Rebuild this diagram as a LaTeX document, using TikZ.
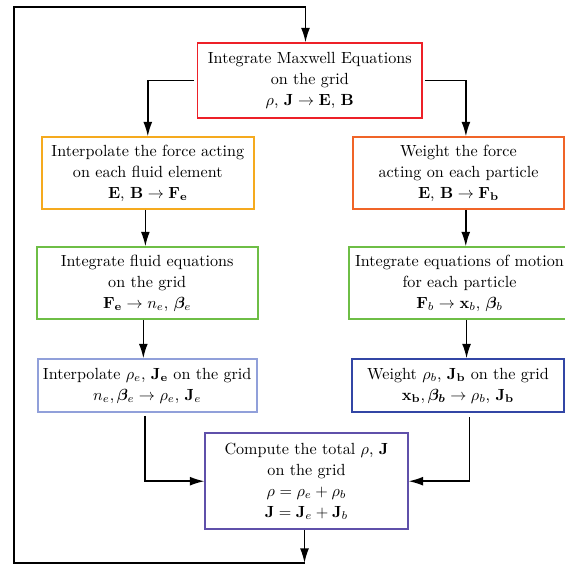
\documentclass[tikz,border=0pt]{standalone}
\usepackage{amsmath,bm}
\usetikzlibrary{arrows.meta,calc}
\definecolor{cred}{RGB}{237,32,40}
\definecolor{corange}{RGB}{245,170,30}
\definecolor{cored}{RGB}{240,100,40}
\definecolor{cgreen}{RGB}{110,190,70}
\definecolor{clblue}{RGB}{145,160,218}
\definecolor{cdblue}{RGB}{50,70,165}
\definecolor{cpurple}{RGB}{95,80,170}
\tikzset{
  box/.style={draw, line width=1.1pt, align=center, inner sep=0pt,
    font=\fontsize{10}{13}\selectfont},
  arr/.style={line width=1pt, -{Latex[length=9pt,width=5.5pt]}},
  ln/.style={line width=1pt}
}
\begin{document}
\begin{tikzpicture}[x=0.62pt,y=-0.62pt]
\useasboundingbox (0,0) rectangle (565,565);
\node[box, draw=cred, minimum width=139.2pt, minimum height=46.1pt] (max) at (309.8,80.5)
  {Integrate Maxwell Equations\\ on the grid\\ $\rho$, $\mathbf{J}\rightarrow\mathbf{E}$, $\mathbf{B}$};
\node[box, draw=corange, minimum width=131.6pt, minimum height=44.5pt] (ofl) at (147.8,173.2)
  {Interpolate the force acting\\ on each fluid element\\ $\mathbf{E}$, $\mathbf{B}\rightarrow\mathbf{F}_\mathbf{e}$};
\node[box, draw=cored, minimum width=131.2pt, minimum height=44.5pt] (ofr) at (458.5,173.2)
  {Weight the force\\ acting on each particle\\ $\mathbf{E}$, $\mathbf{B}\rightarrow\mathbf{F}_\mathbf{b}$};
\node[box, draw=cgreen, minimum width=137pt, minimum height=44.5pt] (gl) at (147.2,283.2)
  {Integrate fluid equations\\ on the grid\\ $\mathbf{F}_\mathbf{e}\rightarrow n_e$, $\bm{\beta}_e$};
\node[box, draw=cgreen, minimum width=136.7pt, minimum height=44.5pt] (gr) at (459.5,283.2)
  {Integrate equations of motion\\ for each particle\\ $\mathbf{F}_b\rightarrow\mathbf{x}_b$, $\bm{\beta}_b$};
\node[box, draw=clblue, minimum width=135.7pt, minimum height=32.5pt] (lbl) at (147.2,385.5)
  {Interpolate $\rho_e$, $\mathbf{J}_\mathbf{e}$ on the grid\\ $n_e,\bm{\beta}_e\rightarrow\rho_e$, $\mathbf{J}_e$};
\node[box, draw=cdblue, minimum width=131pt, minimum height=32.5pt] (dbr) at (458,385.5)
  {Weight $\rho_b$, $\mathbf{J}_\mathbf{b}$ on the grid\\ $\mathbf{x}_\mathbf{b},\bm{\beta_b}\rightarrow\rho_b$, $\mathbf{J}_\mathbf{b}$};
\node[box, draw=cpurple, minimum width=125.4pt, minimum height=59.3pt] (tot) at (306.5,481.2)
  {Compute the total $\rho$, $\mathbf{J}$\\ on the grid\\ $\rho=\rho_e+\rho_b$\\ $\mathbf{J}=\mathbf{J}_e+\mathbf{J}_b$};
% connectors
\draw[arr] ([xshift=-1.5pt]max.west) -| (ofl.north);
\draw[arr] ([xshift=1.5pt]max.east) -| ([xshift=4.6pt]ofr.north);
\draw[arr] ([xshift=-1.5pt]ofl.south) -- ([xshift=-1.5pt]ofl.south |- gl.north);
\draw[arr] ([xshift=-2.4pt]gl.south) -- ([xshift=-2.4pt]gl.south |- lbl.north);
\draw[arr] ([xshift=4.5pt]ofr.south) -- ([xshift=4.5pt]ofr.south |- gr.north);
\draw[arr] ([xshift=5.3pt]dbr.north |- gr.south) -- ([xshift=5.3pt]dbr.north);
\draw[arr] ([xshift=-1.2pt,yshift=-2pt]lbl.south) |- (tot.west);
\draw[arr] ([xshift=7.1pt,yshift=-3pt]dbr.south) |- (tot.east);
\coordinate (b) at (304.5,563);
\coordinate (bl) at (14,563);
\coordinate (tl) at (14,7);
\coordinate (t) at (305.5,7);
\draw[arr] (tot.south -| b) -- (b);
\draw[ln] (b) -- (bl) -- (tl) -- (t);
\draw[arr] (t) -- (t |- max.north);
\end{tikzpicture}
\end{document}
